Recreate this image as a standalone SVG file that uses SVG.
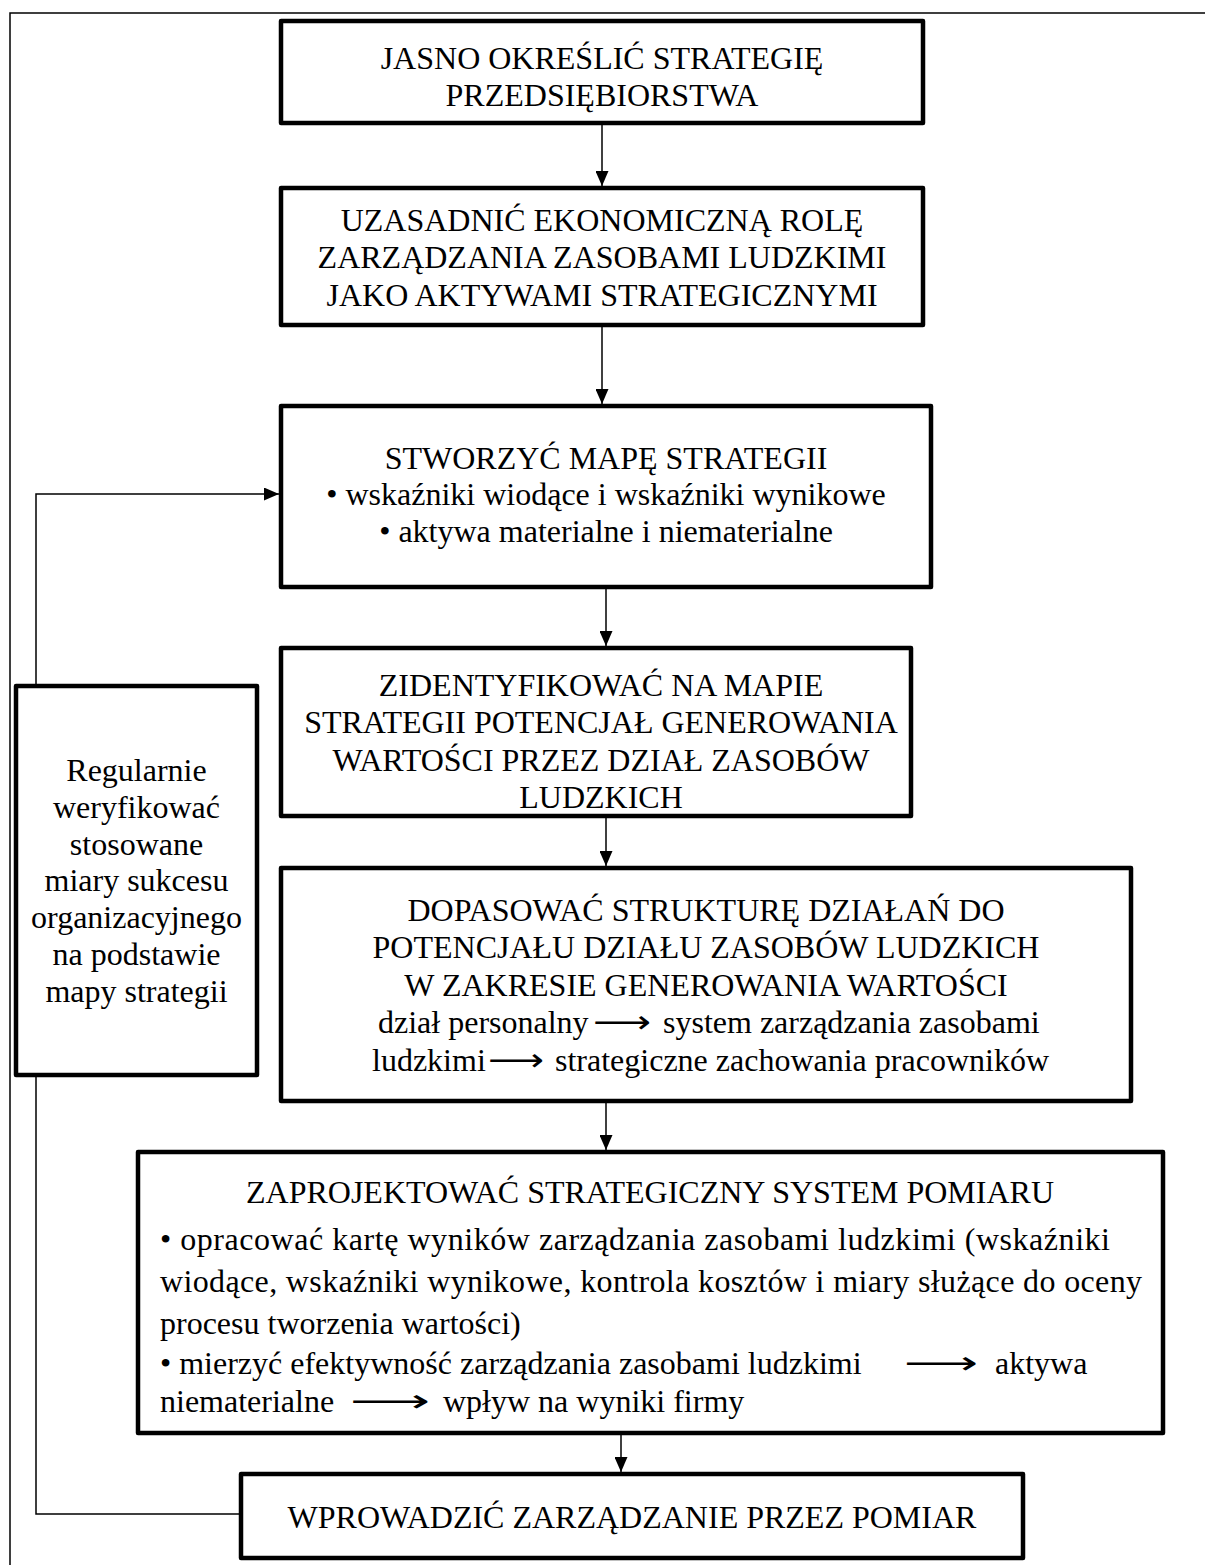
<svg xmlns="http://www.w3.org/2000/svg" width="1205" height="1565" viewBox="0 0 1205 1565">
  <style>
    .frame { fill: none; stroke: #000; stroke-width: 1.5; }
    .box { fill: #fff; stroke: #000; stroke-width: 4.5; stroke-linejoin: round; }
    .link { fill: none; stroke: #000; stroke-width: 1.5; }
    .t { font-family: "Liberation Serif", "Times New Roman", serif; font-size: 32px; fill: #000; }
    .c { text-anchor: middle; }
    .arr { font-family: "DejaVu Sans", sans-serif; font-size: 32px; fill: #000; }
  </style>
  <defs>
    <marker id="head" markerUnits="userSpaceOnUse" markerWidth="15" markerHeight="13" refX="15" refY="6.5" orient="auto">
      <path d="M0,0 L15,6.5 L0,13 z" fill="#000"/>
    </marker>
  </defs>

  <rect width="1205" height="1565" fill="#fff"/>

  <!-- page frame -->
  <path class="frame" d="M10,1565 V13 H1205"/>

  <!-- connectors -->
  <g id="connectors">
    <path class="link" d="M602,125 V186" marker-end="url(#head)"/>
    <path class="link" d="M602,327 V404" marker-end="url(#head)"/>
    <path class="link" d="M606,589 V646" marker-end="url(#head)"/>
    <path class="link" d="M606,818 V866" marker-end="url(#head)"/>
    <path class="link" d="M606,1103 V1150" marker-end="url(#head)"/>
    <path class="link" d="M621,1435 V1472" marker-end="url(#head)"/>
    <path class="link" d="M239,1514 H36 V494 H279" marker-end="url(#head)"/>
  </g>

  <g id="step1">
    <rect class="box" x="281" y="21" width="642" height="102"/>
    <text class="t c" x="602" y="69">JASNO OKREŚLIĆ STRATEGIĘ</text>
    <text class="t c" x="602" y="106">PRZEDSIĘBIORSTWA</text>
  </g>

  <g id="step2">
    <rect class="box" x="281" y="188" width="642" height="137"/>
    <text class="t c" x="602" y="231">UZASADNIĆ EKONOMICZNĄ ROLĘ</text>
    <text class="t c" x="602" y="268">ZARZĄDZANIA ZASOBAMI LUDZKIMI</text>
    <text class="t c" x="602" y="306">JAKO AKTYWAMI STRATEGICZNYMI</text>
  </g>

  <g id="step3">
    <rect class="box" x="281" y="406" width="650" height="181"/>
    <text class="t c" x="606" y="469">STWORZYĆ MAPĘ STRATEGII</text>
    <text class="t c" x="606" y="505">• wskaźniki wiodące i wskaźniki wynikowe</text>
    <text class="t c" x="606" y="542">• aktywa materialne i niematerialne</text>
  </g>

  <g id="step4">
    <rect class="box" x="281" y="648" width="630" height="168"/>
    <text class="t c" x="601" y="696">ZIDENTYFIKOWAĆ NA MAPIE</text>
    <text class="t c" x="601" y="733">STRATEGII POTENCJAŁ GENEROWANIA</text>
    <text class="t c" x="601" y="771">WARTOŚCI PRZEZ DZIAŁ ZASOBÓW</text>
    <text class="t c" x="601" y="808">LUDZKICH</text>
  </g>

  <g id="step5">
    <rect class="box" x="281" y="868" width="850" height="233"/>
    <text class="t c" x="706" y="921">DOPASOWAĆ STRUKTURĘ DZIAŁAŃ DO</text>
    <text class="t c" x="706" y="958">POTENCJAŁU DZIAŁU ZASOBÓW LUDZKICH</text>
    <text class="t c" x="706" y="996">W ZAKRESIE GENEROWANIA WARTOŚCI</text>
    <text class="t" x="378" y="1033">dział personalny</text>
    <text class="arr" x="593" y="1033" textLength="58" lengthAdjust="spacingAndGlyphs">⟶</text>
    <text class="t" x="663" y="1033">system zarządzania zasobami</text>
    <text class="t" x="372" y="1071">ludzkimi</text>
    <text class="arr" x="488" y="1071" textLength="56" lengthAdjust="spacingAndGlyphs">⟶</text>
    <text class="t" x="555" y="1071">strategiczne zachowania pracowników</text>
  </g>

  <g id="step6">
    <rect class="box" x="138" y="1152" width="1025" height="281"/>
    <text class="t c" x="650" y="1203">ZAPROJEKTOWAĆ STRATEGICZNY SYSTEM POMIARU</text>
    <text class="t" x="160" y="1250" textLength="950" lengthAdjust="spacing">• opracować kartę wyników zarządzania zasobami ludzkimi (wskaźniki</text>
    <text class="t" x="160" y="1292" textLength="982" lengthAdjust="spacing">wiodące, wskaźniki wynikowe, kontrola kosztów i miary służące do oceny</text>
    <text class="t" x="160" y="1334">procesu tworzenia wartości)</text>
    <text class="t" x="160" y="1374">• mierzyć efektywność zarządzania zasobami ludzkimi</text>
    <text class="arr" x="904" y="1374" textLength="74" lengthAdjust="spacingAndGlyphs">⟶</text>
    <text class="t" x="995" y="1374">aktywa</text>
    <text class="t" x="160" y="1412">niematerialne</text>
    <text class="arr" x="350" y="1412" textLength="80" lengthAdjust="spacingAndGlyphs">⟶</text>
    <text class="t" x="443" y="1412">wpływ na wyniki firmy</text>
  </g>

  <g id="step7">
    <rect class="box" x="241" y="1474" width="782" height="84"/>
    <text class="t c" x="632" y="1528">WPROWADZIĆ ZARZĄDZANIE PRZEZ POMIAR</text>
  </g>

  <g id="review">
    <rect class="box" x="16" y="686" width="241" height="389"/>
    <text class="t c" x="136.5" y="781">Regularnie</text>
    <text class="t c" x="136.5" y="818">weryfikować</text>
    <text class="t c" x="136.5" y="855">stosowane</text>
    <text class="t c" x="136.5" y="891">miary sukcesu</text>
    <text class="t c" x="136.5" y="928">organizacyjnego</text>
    <text class="t c" x="136.5" y="965">na podstawie</text>
    <text class="t c" x="136.5" y="1002">mapy strategii</text>
  </g>
</svg>
